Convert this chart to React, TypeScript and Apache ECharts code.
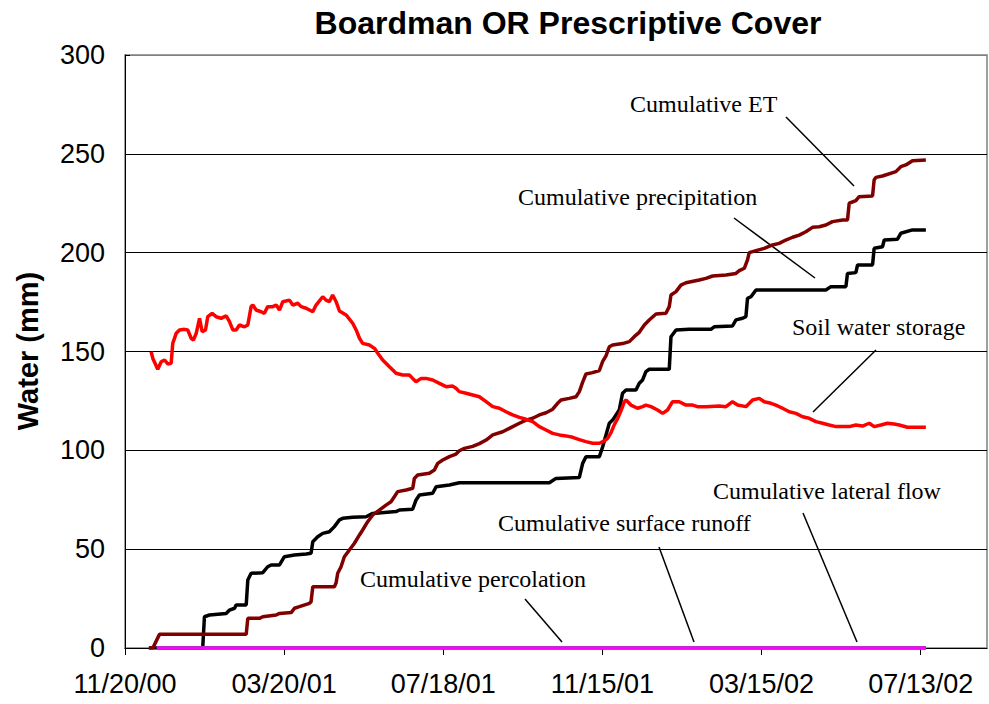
import React, { useEffect, useRef } from "react";
import * as echarts from "echarts";

// x values are days after 11/20/00; y values are mm of water
const xTickLabels = ["11/20/00", "03/20/01", "07/18/01", "11/15/01", "03/15/02", "07/13/02"];
const xTickStep = 120;
const xMax = 650;
const yTickLabels = [0, 50, 100, 150, 200, 250, 300];

const cumulativePrecipitation: [number, number][] = [
  [18, 0], [58.6, 0], [59.9, 15.8], [63.7, 16.7], [76.3, 17.5], [78.8, 19.2], [82.6, 20.1], [83.8, 21.8],
  [91.4, 21.8], [92.6, 34.4], [95.1, 37.8], [103.9, 38.1], [107.6, 41.1], [110.2, 42], [116.5, 42],
  [120.2, 46.2], [127.8, 47], [136.6, 47.6], [140.3, 47.9], [141.6, 53.8], [145.3, 56.3], [149.1, 58],
  [154.1, 58.8], [157.9, 61.4], [161.7, 64.8], [164.2, 65.6], [171.7, 66.1], [181.8, 66.4], [186.8, 68.1],
  [204.4, 69], [206.9, 69.8], [216.9, 70.2], [219.5, 74.9], [222, 77.4], [232, 78.3], [234.6, 81.6],
  [244.6, 82.5], [252.1, 83.6], [320, 83.6], [325, 85.8], [342.6, 86.3], [345.1, 93.4], [347.6, 96.8],
  [357.7, 96.8], [360.2, 101.8], [365.2, 113.7], [367.7, 115.3], [372.7, 120.4], [375.2, 128.9],
  [377.8, 130.5], [385.3, 130.5], [387.8, 133.9], [390.3, 135.6], [392.8, 139.8], [395.3, 141],
  [410.4, 141], [411.7, 157.5], [415.5, 160.9], [425.5, 161.2], [441.8, 161.2], [444.3, 162.5],
  [458.1, 162.9], [460.7, 166], [465.7, 166.8], [468.2, 167.6], [469.4, 176.9], [472, 177.7],
  [475.8, 181.1], [528.5, 181.1], [532.3, 182.8], [543.6, 182.8], [544.8, 189.5], [551.1, 189.9],
  [552.4, 193.8], [563.7, 193.8], [564.9, 202.2], [571.2, 203], [572.5, 206.4], [582.5, 206.8],
  [585, 209.8], [593.8, 211.5], [603.9, 211.5],
];

const cumulativeET: [number, number][] = [
  [18, 0], [21, 0], [26, 6.9], [91.4, 6.9], [92.6, 15], [101.4, 15], [103.9, 15.8], [114, 16.7],
  [116.5, 17.5], [125.3, 17.9], [127.8, 20.1], [131.5, 20.9], [139.1, 22.6], [140.3, 23.4], [141.6, 31],
  [157.9, 31], [159.2, 33], [160.4, 37.8], [162.9, 41.1], [165.4, 46.2], [169.2, 49.6], [173, 53],
  [176.8, 57.2], [179.2, 59.7], [183, 63.9], [186.8, 67.3], [191.8, 69.8], [196.8, 72.3], [200.6, 74],
  [203.1, 76.5], [205.6, 79.1], [212, 79.9], [217, 80.8], [218.2, 85.8], [220.7, 87.5], [229.5, 88.4],
  [233.3, 90], [235.8, 93.4], [239.6, 95.1], [244.6, 96.8], [249.6, 98.1], [252.1, 99.8], [255.9, 101],
  [262.2, 102], [267.2, 103.4], [272.3, 105.2], [277.3, 107.8], [284.8, 109.4], [289.8, 111.1],
  [297.4, 113.7], [302.4, 115.3], [307.4, 116.2], [312.4, 117.9], [317.5, 119], [322.5, 120.8],
  [326.2, 123.8], [328.8, 125.5], [335, 126.3], [340.1, 127.1], [342.6, 129.7], [345.1, 134.5],
  [347.6, 138.6], [352.6, 139.3], [357.7, 140.4], [360.2, 145], [362.7, 147.8], [365.2, 152.4],
  [367.7, 153.3], [375.2, 154], [380.3, 155], [384, 157.5], [387.8, 159.7], [391.6, 163.4],
  [395.3, 165.9], [400.4, 169], [407.9, 169.3], [410.4, 172.7], [411.7, 178.6], [415.5, 180.3],
  [419.2, 183.6], [423, 184.8], [433, 186.2], [438.1, 187], [443.1, 188.2], [453.2, 188.7],
  [460.7, 189.5], [463.2, 190.9], [467, 192.1], [469.4, 196.3], [470.7, 200], [475.8, 201], [482, 202.2],
  [488.3, 203.9], [493.3, 204.7], [498.3, 206.4], [503.4, 207.8], [508.4, 208.9], [513.4, 210.6],
  [518.4, 212.8], [523.5, 213.1], [528.5, 214], [533.5, 215.7], [541.1, 216.5], [544.8, 216.5],
  [546.1, 225], [551.1, 226.3], [553.6, 228.3], [563.7, 228.7], [564.9, 236.8], [566.2, 238.1],
  [571.2, 238.8], [581.3, 241], [585, 243.5], [588.8, 244.4], [593.8, 246.5], [603.9, 246.9],
];

const soilWaterStorage: [number, number][] = [
  [19.7, 149.9], [21, 146.5], [24.7, 141], [27.3, 144.8], [29.8, 145.7], [32.3, 143.7], [34.8, 144],
  [36, 154.1], [38.6, 159.2], [41.1, 160.9], [44.8, 161.2], [47.3, 160.9], [49.9, 156.7], [51.6, 155.8],
  [53.7, 159.2], [56.2, 166.8], [58.2, 160], [60.7, 160.9], [62.4, 167.6], [65.7, 169.3], [68.7, 167.6],
  [72.5, 166.8], [76.3, 168], [78.8, 165.1], [81.3, 160.9], [83.8, 160.9], [86.3, 163.4], [90.1, 162.5],
  [92.6, 163.4], [95.1, 172.7], [96.4, 173.5], [98.9, 171], [102.6, 170.1], [105.1, 169.3],
  [107.6, 172.7], [111.4, 172.7], [114, 173.5], [116.5, 171], [119, 175.2], [124, 176], [126.5, 173.5],
  [130.3, 174.4], [132.8, 172.7], [136.6, 171.9], [141.6, 170.1], [144.1, 173.5], [149.1, 177.7],
  [151.6, 176], [154.1, 175.2], [156.6, 178.6], [159.2, 175.2], [161.7, 170.5], [166.7, 168.5],
  [171.7, 164.3], [174.3, 160.9], [176.8, 156.7], [179.2, 154.1], [184.3, 153.3], [188.1, 151.6],
  [190.6, 149.1], [194.3, 145.7], [199.4, 142.3], [204.4, 139], [209.4, 138.1], [214.4, 138.1],
  [216.9, 136.4], [219.5, 134.7], [223.3, 136.4], [227, 136.4], [232, 135.6], [237.1, 133.9],
  [242.1, 132.2], [247.1, 132.5], [249.6, 131.4], [252.1, 129.7], [257.2, 128.9], [262.2, 128],
  [267.2, 127.1], [272.3, 124.6], [277.3, 122.1], [282.3, 121.3], [287.3, 119.5], [292.3, 117.9],
  [297.4, 116.7], [302.4, 115.7], [307.4, 114.5], [312.4, 112], [317.5, 110.3], [322.5, 108.6],
  [327.5, 107.8], [332.6, 107.3], [337.6, 106.6], [342.6, 105.4], [347.6, 104.4], [352.6, 103.6],
  [357.7, 103.6], [361.4, 104.8], [363.9, 106.1], [366.5, 109], [369, 113], [371.4, 116], [374, 120],
  [376.5, 124.5], [377.8, 125.5], [381.5, 122.9], [386.5, 121.3], [390.3, 122.1], [392.8, 122.9],
  [396.6, 122.1], [401.6, 120.4], [405.4, 118.7], [409.1, 120.4], [412.9, 124.6], [417.9, 124.6],
  [423, 122.9], [428, 122.9], [431.7, 122.1], [438.1, 122.1], [448.1, 122.4], [453.2, 122.1],
  [458.1, 124.6], [461.9, 122.9], [468.2, 122.1], [473.2, 125.5], [478.3, 126.3], [482, 124.6],
  [487.1, 123.8], [490.8, 122.9], [495.8, 121.3], [500.9, 119.5], [505.9, 118.7], [510.9, 117],
  [515.9, 116.2], [521, 114.5], [526, 113.7], [531, 112.8], [536.1, 112], [546.1, 112], [551.1, 112.8],
  [556.1, 112.3], [561.2, 113.7], [565, 112], [570, 112.8], [575, 113.7], [580, 113.3], [583.8, 112.8],
  [590, 111.7], [603.9, 111.7],
];

const cumulativePercolation: [number, number][] = [[24, 0], [603.9, 0]];
const cumulativeSurfaceRunoff: [number, number][] = [[24, 0], [603.9, 0]];
const cumulativeLateralFlow: [number, number][] = [[24, 0], [603.9, 0]];

const annotationLabels = [
  "Cumulative ET",
  "Cumulative precipitation",
  "Soil water storage",
  "Cumulative lateral flow",
  "Cumulative surface runoff",
  "Cumulative percolation",
];

// layout of annotation text (left, middle) and leader lines, in pixels
const annotationLayout = [
  { tx: 630, ty: 104, line: [786, 117, 854, 186] },
  { tx: 518, ty: 197, line: [734, 218, 815, 278] },
  { tx: 792, ty: 327, line: [876, 350, 813, 412] },
  { tx: 713, ty: 491, line: [803, 513, 857, 642] },
  { tx: 498, ty: 523, line: [659, 547, 694, 642] },
  { tx: 360, ty: 579, line: [525, 599, 562, 642] },
];

export default function App() {
  const ref = useRef<HTMLDivElement>(null);

  useEffect(() => {
    if (!ref.current) return;
    const chart = echarts.init(ref.current, null, { renderer: "svg" });
    const tickValues = xTickLabels.map((_, i) => i * xTickStep);
    const sans = '"Liberation Sans", Arial, sans-serif';
    const serif = '"Liberation Serif", "Times New Roman", serif';

    const lineSeries = (name: string, data: [number, number][], color: string, z: number) => ({
      name,
      type: "line",
      data,
      showSymbol: false,
      symbol: "none",
      z,
      lineStyle: { color, width: 3.5 },
      itemStyle: { color },
      emphasis: { disabled: true },
    });

    const graphics: any[] = [
      {
        type: "text",
        x: 568,
        y: 23,
        silent: true,
        style: {
          text: "Boardman OR Prescriptive Cover",
          font: `bold 32px ${sans}`,
          fill: "#000",
          textAlign: "center",
          textVerticalAlign: "middle",
          align: "center",
          verticalAlign: "middle",
        },
      },
      {
        type: "text",
        x: 28,
        y: 351,
        rotation: Math.PI / 2,
        silent: true,
        style: {
          text: "Water (mm)",
          font: `bold 29px ${sans}`,
          fill: "#000",
          textAlign: "center",
          textVerticalAlign: "middle",
          align: "center",
          verticalAlign: "middle",
        },
      },
    ];
    annotationLabels.forEach((label, i) => {
      const a = annotationLayout[i];
      graphics.push({
        type: "text",
        x: a.tx,
        y: a.ty,
        silent: true,
        style: {
          text: label,
          font: `24px ${serif}`,
          fill: "#000",
          textAlign: "left",
          textVerticalAlign: "middle",
          align: "left",
          verticalAlign: "middle",
        },
      });
      graphics.push({
        type: "line",
        silent: true,
        shape: { x1: a.line[0], y1: a.line[1], x2: a.line[2], y2: a.line[3] },
        style: { stroke: "#000", lineWidth: 1.5 },
      });
    });

    chart.setOption({
      animation: false,
      backgroundColor: "#fff",
      grid: {
        left: 125,
        right: 2,
        top: 55,
        bottom: 56,
        show: true,
        borderColor: "#808080",
        borderWidth: 1.5,
        backgroundColor: "transparent",
      },
      xAxis: {
        type: "value",
        min: 0,
        max: xMax,
        interval: xTickStep,
        axisLine: { show: true, onZero: false, lineStyle: { color: "#000", width: 1 } },
        axisTick: {
          show: true,
          inside: false,
          length: 7,
          customValues: tickValues,
          lineStyle: { color: "#000", width: 1 },
        },
        axisLabel: {
          customValues: tickValues,
          formatter: (v: number) => xTickLabels[Math.round(v / xTickStep)] ?? "",
          fontSize: 27,
          fontFamily: sans,
          color: "#000",
          margin: 22,
        },
        splitLine: { show: false },
      },
      yAxis: {
        type: "value",
        min: yTickLabels[0],
        max: yTickLabels[yTickLabels.length - 1],
        interval: 50,
        axisLine: { show: true, lineStyle: { color: "#000", width: 1 } },
        axisTick: { show: true, inside: true, length: 5, lineStyle: { color: "#000" } },
        axisLabel: {
          fontSize: 27,
          fontFamily: sans,
          color: "#000",
          margin: 20,
        },
        splitLine: {
          show: true,
          lineStyle: {
            color: ["#000", "#000", "#000", "#000", "#000", "#000", "#808080"],
            width: 1,
          },
        },
      },
      series: [
        lineSeries("Cumulative precipitation", cumulativePrecipitation, "#000000", 2),
        lineSeries("Cumulative ET", cumulativeET, "#800000", 3),
        lineSeries("Soil water storage", soilWaterStorage, "#ff0000", 4),
        lineSeries("Cumulative percolation", cumulativePercolation, "#0000ff", 5),
        lineSeries("Cumulative surface runoff", cumulativeSurfaceRunoff, "#00cc00", 6),
        lineSeries("Cumulative lateral flow", cumulativeLateralFlow, "#ff00ff", 7),
      ],
      graphic: graphics,
    });

    return () => {
      chart.dispose();
    };
  }, []);

  return (
    <div
      ref={ref}
      style={{ position: "absolute", left: 0, top: 0, width: 989, height: 704 }}
    />
  );
}
